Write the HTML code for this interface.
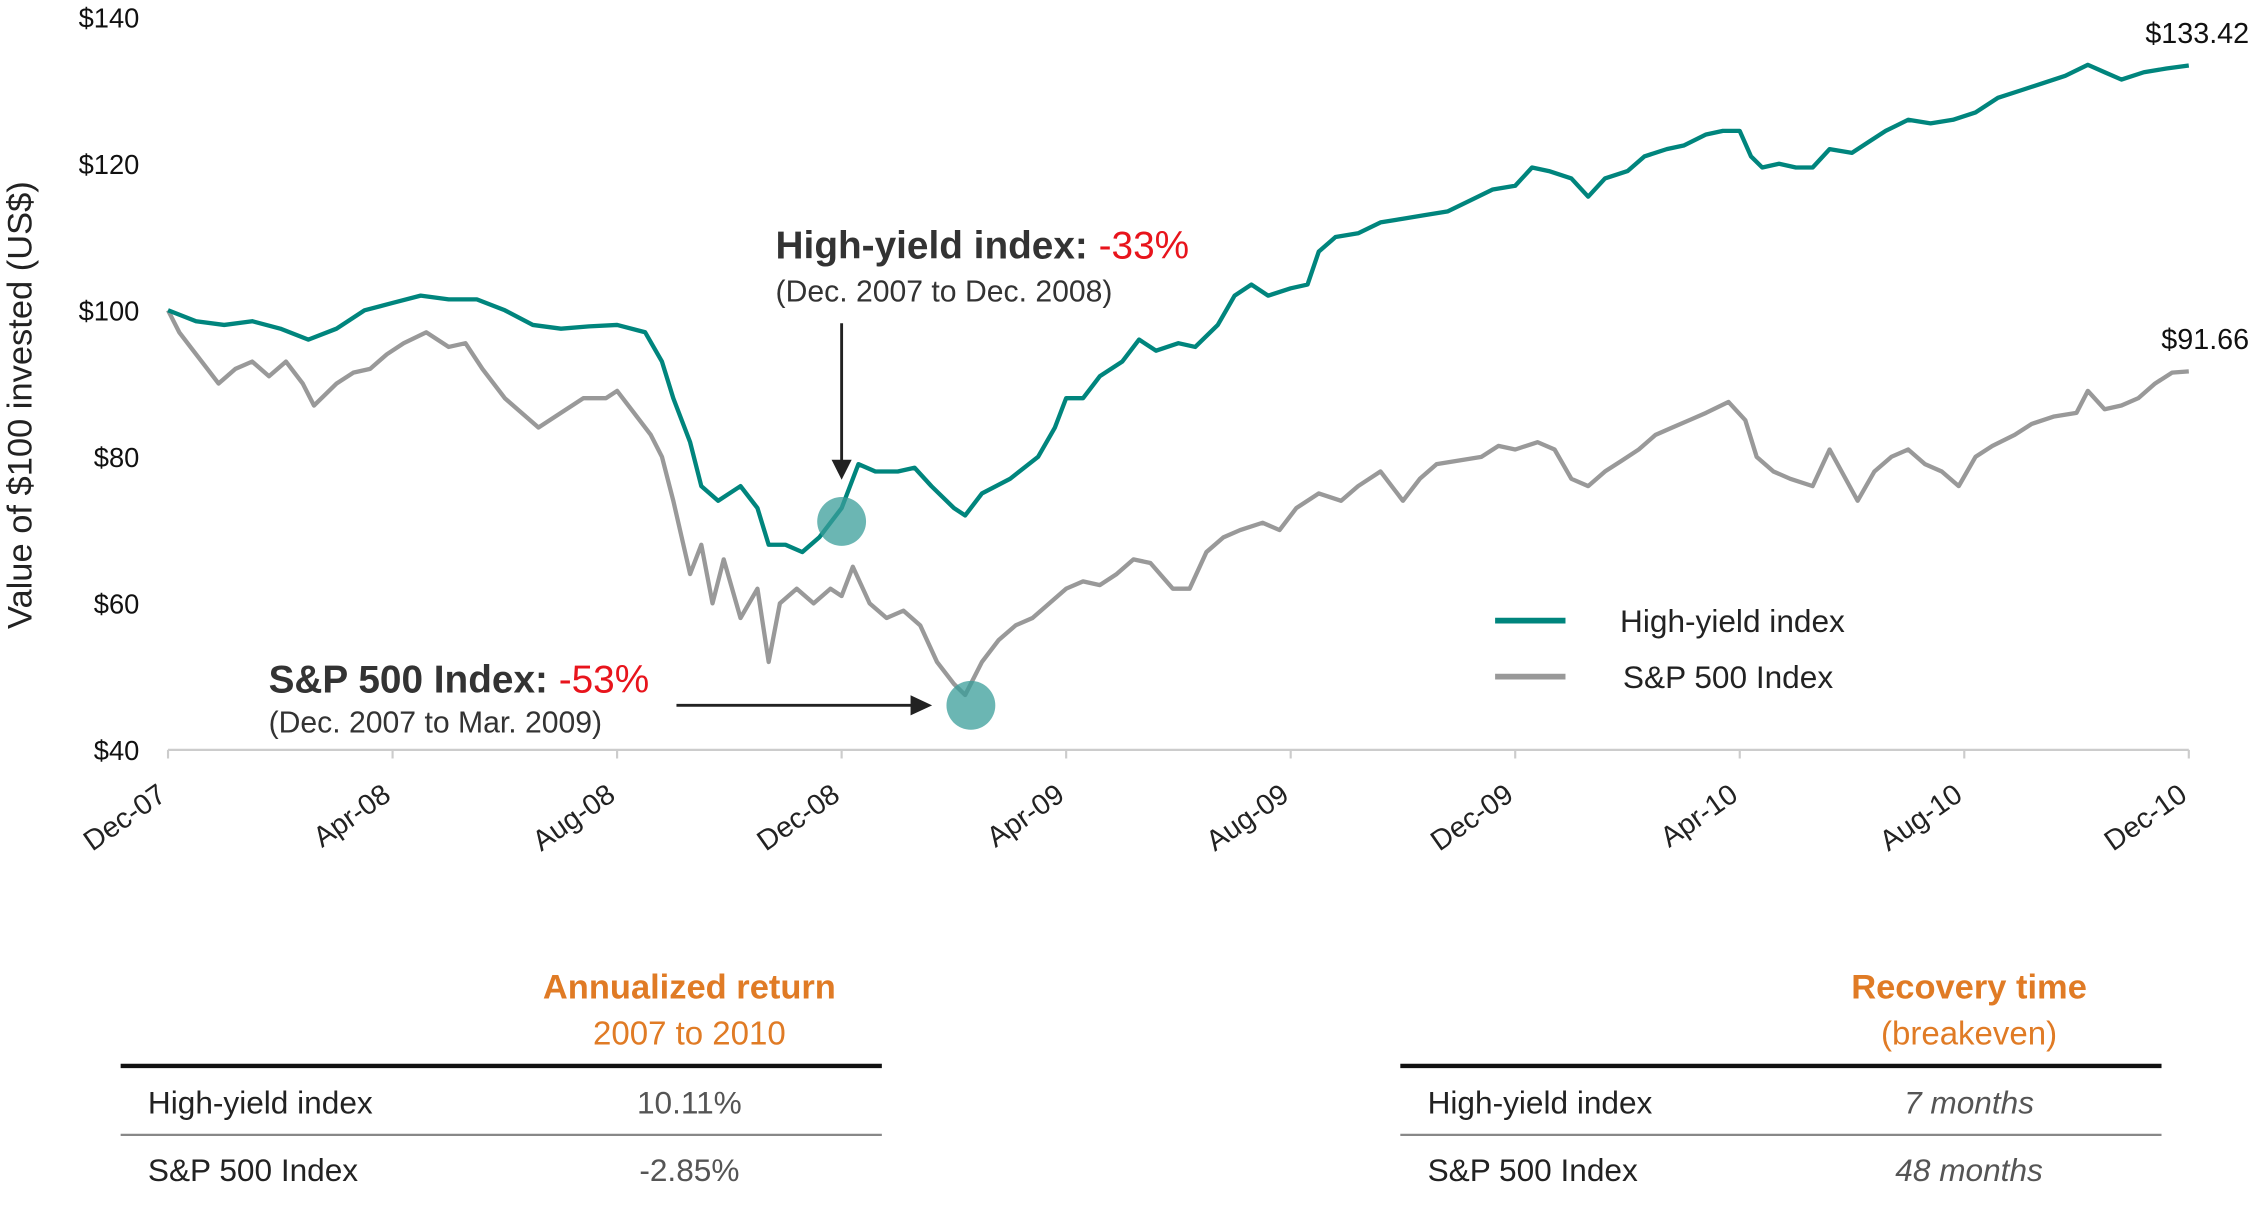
<!DOCTYPE html>
<html><head><meta charset="utf-8"><style>
html,body{margin:0;padding:0;background:#fff;}
svg{display:block;font-family:"Liberation Sans",sans-serif;}
</style></head><body>
<svg width="2252" height="1211" viewBox="0 0 1568 843" preserveAspectRatio="none" xmlns="http://www.w3.org/2000/svg">
<g id="axes"></g>
<g id="series"></g>
<g>
  <circle cx="586" cy="363" r="17" fill="#3a9e9a" opacity="0.75"/>
  <circle cx="676" cy="491" r="17" fill="#3a9e9a" opacity="0.75"/>
  <line x1="586" y1="225" x2="586" y2="322" stroke="#222" stroke-width="2"/>
  <polygon points="579,320 593,320 586,334" fill="#222"/>
  <line x1="471" y1="491" x2="636" y2="491" stroke="#222" stroke-width="2"/>
  <polygon points="634,484 634,498 649,491" fill="#222"/>
  <text x="540" y="180" font-size="27" font-weight="bold" fill="#333">High-yield index: <tspan font-weight="normal" fill="#e8141c">-33%</tspan></text>
  <text x="540" y="210" font-size="21" fill="#333">(Dec. 2007 to Dec. 2008)</text>
  <text x="187" y="482" font-size="27" font-weight="bold" fill="#333">S&amp;P 500 Index: <tspan font-weight="normal" fill="#e8141c">-53%</tspan></text>
  <text x="187" y="510" font-size="21" fill="#333">(Dec. 2007 to Mar. 2009)</text>
  <text x="1566" y="30" font-size="20" fill="#111" text-anchor="end">$133.42</text>
  <text x="1566" y="243" font-size="20" fill="#111" text-anchor="end">$91.66</text>
</g>
<g>
  <line x1="1041" y1="432" x2="1090" y2="432" stroke="#00857d" stroke-width="4"/>
  <text x="1128" y="440" font-size="22" fill="#222">High-yield index</text>
  <line x1="1041" y1="471" x2="1090" y2="471" stroke="#999" stroke-width="4"/>
  <text x="1130" y="479" font-size="22" fill="#222">S&amp;P 500 Index</text>
</g>
<text transform="translate(22,282) rotate(-90)" font-size="24" fill="#222" text-anchor="middle">Value of $100 invested (US$)</text>
<g>
  <text x="480" y="695" font-size="24" font-weight="bold" fill="#e07b25" text-anchor="middle">Annualized return</text>
  <text x="480" y="727" font-size="23" fill="#e07b25" text-anchor="middle">2007 to 2010</text>
  <line x1="84" y1="742" x2="614" y2="742" stroke="#111" stroke-width="3"/>
  <text x="103" y="775" font-size="22" fill="#222">High-yield index</text>
  <text x="480" y="775" font-size="22" fill="#555" text-anchor="middle">10.11%</text>
  <line x1="84" y1="790" x2="614" y2="790" stroke="#888" stroke-width="1.5"/>
  <text x="103" y="822" font-size="22" fill="#222">S&amp;P 500 Index</text>
  <text x="480" y="822" font-size="22" fill="#555" text-anchor="middle">-2.85%</text>
</g>
<g>
  <text x="1371" y="695" font-size="24" font-weight="bold" fill="#e07b25" text-anchor="middle">Recovery time</text>
  <text x="1371" y="727" font-size="23" fill="#e07b25" text-anchor="middle">(breakeven)</text>
  <line x1="975" y1="742" x2="1505" y2="742" stroke="#111" stroke-width="3"/>
  <text x="994" y="775" font-size="22" fill="#222">High-yield index</text>
  <text x="1371" y="775" font-size="22" fill="#555" font-style="italic" text-anchor="middle">7 months</text>
  <line x1="975" y1="790" x2="1505" y2="790" stroke="#888" stroke-width="1.5"/>
  <text x="994" y="822" font-size="22" fill="#222">S&amp;P 500 Index</text>
  <text x="1371" y="822" font-size="22" fill="#555" font-style="italic" text-anchor="middle">48 months</text>
</g>
</svg>
<script>
const xTickLabels=["Dec-07","Apr-08","Aug-08","Dec-08","Apr-09","Aug-09","Dec-09","Apr-10","Aug-10","Dec-10"];
const yTicks=[40,60,80,100,120,140];
const hyMonths=[0,0.5,1,1.5,2,2.5,3,3.5,4,4.5,5,5.5,6,6.5,7,7.5,8,8.5,8.8,9,9.3,9.5,9.8,10.2,10.5,10.7,11,11.3,11.6,12,12.3,12.6,13,13.3,13.6,14,14.2,14.5,15,15.5,15.8,16,16.3,16.6,17,17.3,17.6,18,18.3,18.7,19,19.3,19.6,20,20.3,20.5,20.8,21.2,21.6,22,22.4,22.8,23.2,23.6,24,24.3,24.6,25,25.3,25.6,26,26.3,26.7,27,27.4,27.7,28,28.2,28.4,28.7,29,29.3,29.6,30,30.3,30.6,31,31.4,31.8,32.2,32.6,33,33.4,33.8,34.2,34.5,34.8,35.2,35.6,36];
const hyValues=[100,98.5,98,98.5,97.5,96,97.5,100,101,102,101.5,101.5,100,98,97.5,97.8,98,97,93,88,82,76,74,76,73,68,68,67,69,73,79,78,78,78.5,76,73,72,75,77,80,84,88,88,91,93,96,94.5,95.5,95,98,102,103.5,102,103,103.5,108,110,110.5,112,112.5,113,113.5,115,116.5,117,119.5,119,118,115.5,118,119,121,122,122.5,124,124.5,124.5,121,119.5,120,119.5,119.5,122,121.5,123,124.5,126,125.5,126,127,129,130,131,132,133.5,132.5,131.5,132.5,133,133.42];
const spMonths=[0,0.2,0.4,0.7,0.9,1.2,1.5,1.8,2.1,2.4,2.6,3,3.3,3.6,3.9,4.2,4.6,5,5.3,5.6,6,6.3,6.6,7,7.4,7.8,8,8.3,8.6,8.8,9,9.3,9.5,9.7,9.9,10.2,10.5,10.7,10.9,11.2,11.5,11.8,12,12.2,12.5,12.8,13.1,13.4,13.7,14,14.2,14.5,14.8,15.1,15.4,15.7,16,16.3,16.6,16.9,17.2,17.5,17.9,18.2,18.5,18.8,19.1,19.5,19.8,20.1,20.5,20.9,21.2,21.6,22,22.3,22.6,23,23.4,23.7,24,24.4,24.7,25,25.3,25.6,25.9,26.2,26.5,26.8,27.1,27.4,27.8,28.1,28.3,28.6,28.9,29.3,29.6,30.1,30.4,30.7,31,31.3,31.6,31.9,32.2,32.5,32.9,33.2,33.6,34,34.2,34.5,34.8,35.1,35.4,35.7,36];
const spValues=[100,97,95,92,90,92,93,91,93,90,87,90,91.5,92,94,95.5,97,95,95.5,92,88,86,84,86,88,88,89,86,83,80,74,64,68,60,66,58,62,52,60,62,60,62,61,65,60,58,59,57,52,49,47.5,52,55,57,58,60,62,63,62.5,64,66,65.5,62,62,67,69,70,71,70,73,75,74,76,78,74,77,79,79.5,80,81.5,81,82,81,77,76,78,79.5,81,83,84,85,86,87.5,85,80,78,77,76,81,74,78,80,81,79,78,76,80,81.5,83,84.5,85.5,86,89,86.5,87,88,90,91.5,91.66];

const NS="http://www.w3.org/2000/svg";
const X0=117,X1=1524,Y40=522,Y140=12;
function xScale(m){return X0+(X1-X0)*m/36;}
function yScale(v){return Y40-(v-40)*(Y40-Y140)/100;}
function mk(tag,attrs,parent){const e=document.createElementNS(NS,tag);for(const k in attrs)e.setAttribute(k,attrs[k]);parent.appendChild(e);return e;}
const axes=document.getElementById('axes');
const baseline=mk('line',{x1:X0,y1:Y40,x2:X1,y2:Y40,stroke:'#ccc','stroke-width':1.5},axes);


xTickLabels.forEach((lab,i)=>{
  const x=xScale(i*4);
  const t=mk('line',{x1:x,y1:Y40,x2:x,y2:Y40+6,stroke:'#ccc','stroke-width':1.5},axes);
  
  
  const ly=Y40+34;
  const tx=mk('text',{x:x,y:ly,'font-size':20,fill:'#222','text-anchor':'end',transform:`rotate(-35 ${x} ${ly})`},axes);
  
  
  tx.textContent=lab;
});
yTicks.forEach(v=>{
  const tx=mk('text',{x:97,y:yScale(v)+7,'font-size':19,fill:'#111','text-anchor':'end'},axes);
  
  
  tx.textContent='$'+v;
});
const series=document.getElementById('series');
function line(ms,vs,color,name){
  const d=ms.map((m,i)=>(i?'L':'M')+xScale(m).toFixed(1)+','+yScale(vs[i]).toFixed(1)).join('');
  const p=mk('path',{d:d,fill:'none',stroke:color,'stroke-width':3,'stroke-linejoin':'round'},series);
  
  
}
line(spMonths,spValues,'#999','sp500-line');
line(hyMonths,hyValues,'#00857d','high-yield-line');
</script>
</body></html>
